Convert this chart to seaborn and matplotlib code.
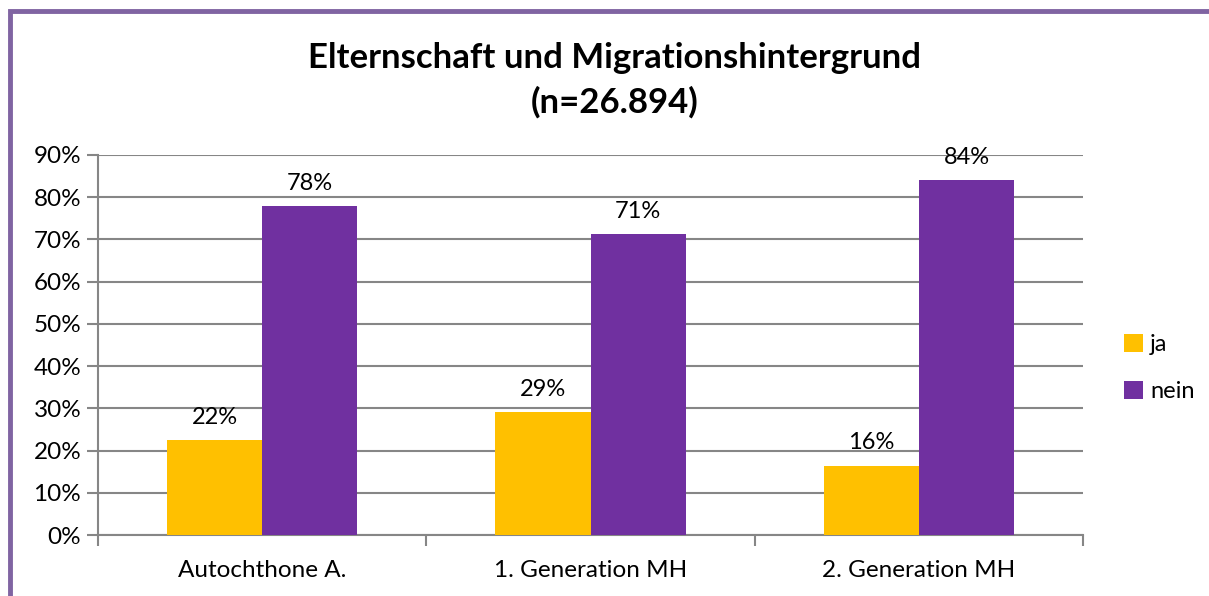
import pandas as pd
import seaborn as sns
import matplotlib.pyplot as plt
from matplotlib.patches import Rectangle

# Daten
gruppen = ["Autochthone A.", "1. Generation MH", "2. Generation MH"]
ja = [22.4, 29.1, 16.4]
nein = [77.8, 71.2, 84.0]
antworten = ["ja", "nein"]
farben = ["#FFC000", "#7030A0"]

df = pd.DataFrame({
    "Gruppe": gruppen * 2,
    "Antwort": ["ja"] * 3 + ["nein"] * 3,
    "Anteil": ja + nein,
})

sns.set_style("white")
plt.rcParams["font.family"] = ["Lato", "DejaVu Sans"]
plt.rcParams["text.color"] = "black"
plt.rcParams["xtick.labelcolor"] = "black"
plt.rcParams["ytick.labelcolor"] = "black"

fig = plt.figure(figsize=(12.09, 5.96), dpi=100)
ax = fig.add_axes([0.081, 0.1023, 0.815, 0.6377])

sns.barplot(data=df, x="Gruppe", y="Anteil", hue="Antwort", hue_order=antworten,
            palette=farben, width=0.58, saturation=1, linewidth=0, ax=ax, zorder=3)

# Beschriftungen
for cont in ax.containers:
    ax.bar_label(cont, labels=[f"{v:.0f}%" for v in cont.datavalues],
                 padding=9, fontsize=17, color="black")

ax.set_ylim(0, 90)
ax.set_xlim(-0.5, 2.5)
ax.set_yticks(range(0, 91, 10))
ax.set_yticklabels([f"{t}%" for t in range(0, 91, 10)], fontsize=17.5)
ax.tick_params(axis="x", labelsize=17.5, length=0, pad=18, labelcolor="black")
ax.tick_params(axis="y", length=8, width=1.5, color="#868686", left=True, pad=4,
               labelcolor="black")
ax.yaxis.grid(True, color="#868686", linewidth=1.5, zorder=0)
ax.set_axisbelow(True)
ax.set_xlabel("")
ax.set_ylabel("")
for s in ["top", "right"]:
    ax.spines[s].set_visible(False)
for s in ["left", "bottom"]:
    ax.spines[s].set_color("#868686")
    ax.spines[s].set_linewidth(1.5)

# Teilstriche zwischen den Gruppen
ax.set_xticks([-0.5, 0.5, 1.5, 2.5], minor=True)
ax.tick_params(axis="x", which="minor", length=8, width=1.5, color="#868686", bottom=True)

leg = ax.legend(loc="center left", bbox_to_anchor=(1.02, 0.44), frameon=False,
                fontsize=17, handlelength=0.8, handleheight=0.8, handletextpad=0.3,
                labelspacing=1.1)
for t in leg.get_texts():
    t.set_color("black")

fig.suptitle("Elternschaft und Migrationshintergrund\n(n=26.894)", x=0.508, y=0.93,
             fontsize=25, fontweight="bold", linespacing=1.45, color="black")

# Rahmen
fig.patches.append(Rectangle((10 / 1209, -0.2), 1.3, 1.2 - 10.5 / 596,
                             transform=fig.transFigure, fill=False,
                             edgecolor="#8064A2", linewidth=3.5, zorder=10))

fig.savefig("out.png", dpi=100)
